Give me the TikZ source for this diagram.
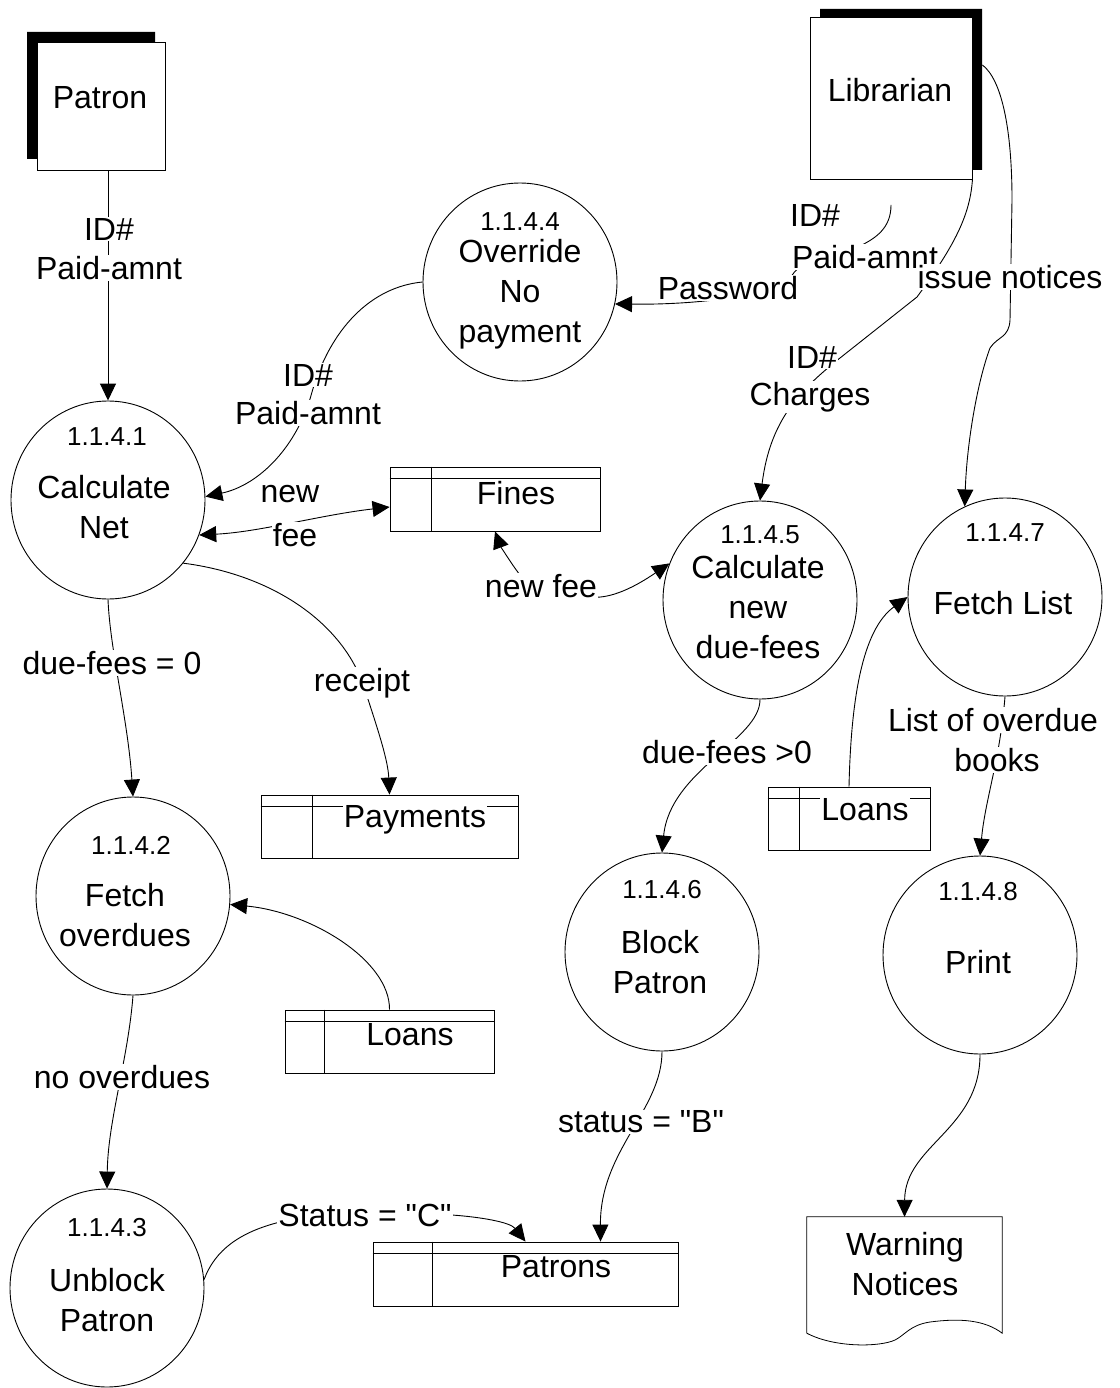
\documentclass[tikz,border=0pt]{standalone}
\usepackage{fontspec}
\setmainfont{Liberation Sans}[Ligatures=TeXOff]
\usetikzlibrary{arrows.meta,shapes.geometric}
\begin{document}
\begin{tikzpicture}[x=1pt,y=-1pt,
  dfdfont/.style={font=\fontsize{32}{40}\selectfont},
  numfont/.style={font=\fontsize{26}{28}\selectfont},
  thinline/.style={line width=0.8pt},
  proc/.style={draw, ellipse, line width=0.9pt, minimum width=194pt, minimum height=198pt, inner sep=0pt},
  ptext/.style={dfdfont, align=center, inner sep=0pt},
  pnum/.style={numfont, inner sep=0pt},
  store/.style={draw, rectangle, line width=0.9pt, inner sep=0pt, minimum height=63pt},
  stext/.style={dfdfont, fill=white, inner xsep=1pt, inner ysep=2pt},
  entity/.style={draw, rectangle, line width=0.9pt, inner sep=0pt},
  flabel/.style={dfdfont, fill=white, inner sep=1pt, align=center},
  flow/.style={line width=0.9pt, -{Triangle[length=17pt,width=16pt]}},
  flowboth/.style={line width=0.9pt, {Triangle[length=17pt,width=16pt]}-{Triangle[length=17pt,width=16pt]}},
]
\useasboundingbox (0,0) rectangle (1119,1388);

% ---------- external entities ----------
\node[entity, minimum width=128pt, minimum height=128pt] (patron) at (101,106) {};
\fill (27,159) -- (27,32) -- (155,32) -- (155,42) -- (37,42) -- (37,159) -- cycle;
\node[dfdfont] (patronT) at (100,98) {Patron};

\node[entity, minimum width=162pt, minimum height=162pt] (lib) at (891,98) {};
\fill (820,9) -- (982,9) -- (982,170) -- (972,170) -- (972,17) -- (820,17) -- cycle;
\node[dfdfont] (libT) at (890,90) {Librarian};

% ---------- processes ----------
\node[proc] (p1) at (108,500) {};
\node[pnum] (p1n) at (107,437) {1.1.4.1};
\node[ptext] (p1t) at (104,507) {Calculate\\Net};

\node[proc] (p4) at (520,282) {};
\node[pnum] (p4n) at (520,222) {1.1.4.4};
\node[ptext] (p4t) at (520,294) {Override\\No\\payment};

\node[proc] (p5) at (760,600) {};
\node[pnum] (p5n) at (760,535) {1.1.4.5};
\node[ptext] (p5t) at (758,607) {Calculate\\new\\due-fees};

\node[proc] (p7) at (1005,597) {};
\node[pnum] (p7n) at (1005,533) {1.1.4.7};
\node[ptext] (p7t) at (1003,603) {Fetch List};

\node[proc] (p2) at (133,896) {};
\node[pnum] (p2n) at (131,845) {1.1.4.2};
\node[ptext] (p2t) at (125,915) {Fetch\\overdues};

\node[proc] (p3) at (107,1288) {};
\node[pnum] (p3n) at (107,1228) {1.1.4.3};
\node[ptext] (p3t) at (107,1300) {Unblock\\Patron};

\node[proc] (p6) at (662,952) {};
\node[pnum] (p6n) at (662,890) {1.1.4.6};
\node[ptext] (p6t) at (660,962) {Block\\Patron};

\node[proc] (p8) at (980,955) {};
\node[pnum] (p8n) at (978,892) {1.1.4.8};
\node[ptext] (p8t) at (978,962) {Print};

% ---------- data stores ----------
\node[store, minimum width=210pt, minimum height=64pt] (fines) at (495,499) {};
\draw[thinline] ([xshift=42pt]fines.north west) -- ([xshift=42pt]fines.south west);
\draw[thinline] ([yshift=-12pt]fines.north west) -- ([yshift=-12pt]fines.north east);
\node[stext] (finesT) at (516,493) {Fines};

\node[store, minimum width=257pt] (payments) at (389.5,826.5) {};
\draw[thinline] ([xshift=52pt]payments.north west) -- ([xshift=52pt]payments.south west);
\draw[thinline] ([yshift=-12pt]payments.north west) -- ([yshift=-12pt]payments.north east);
\node[stext] (paymentsT) at (415,820) {Payments};

\node[store, minimum width=209pt] (loansL) at (389.5,1041.5) {};
\draw[thinline] ([xshift=40pt]loansL.north west) -- ([xshift=40pt]loansL.south west);
\draw[thinline] ([yshift=-12pt]loansL.north west) -- ([yshift=-12pt]loansL.north east);
\node[stext] (loansLT) at (410,1035) {Loans};

\node[store, minimum width=162pt] (loansR) at (849,818.5) {};
\draw[thinline] ([xshift=32pt]loansR.north west) -- ([xshift=32pt]loansR.south west);
\draw[thinline] ([yshift=-12pt]loansR.north west) -- ([yshift=-12pt]loansR.north east);
\node[stext] (loansRT) at (865,810) {Loans};

\node[store, minimum width=305pt, minimum height=64pt] (patrons) at (525.5,1274) {};
\draw[thinline] ([xshift=60pt]patrons.north west) -- ([xshift=60pt]patrons.south west);
\draw[thinline] ([yshift=-12pt]patrons.north west) -- ([yshift=-12pt]patrons.north east);
\node[stext] (patronsT) at (556,1267) {Patrons};

% ---------- printed document ----------
\node[minimum width=195pt, minimum height=116pt, inner sep=0pt] (warn) at (904.5,1275) {};
\draw[thinline] (warn.south west) -- (warn.north west) -- (warn.north east) -- (warn.south east)
  .. controls (985,1320) and (960,1318) .. (930,1322)
  .. controls (910,1325) and (905,1335) .. (895,1340)
  .. controls (880,1347) and (835,1348) .. (warn.south west);
\node[ptext] (warnT) at (905,1264) {Warning\\Notices};

% ---------- data flows ----------
\draw[flow] ([xshift=7pt]patron.south) -- (p1.north);
\draw[flow, shorten <=26pt] (lib.south) -- (891,205)
  .. controls (891,228) and (876,238) .. (860,246)
  .. controls (830,258) and (800,262) .. (793,274)
  .. controls (780,295) and (700,305) .. (p4.-13);
\draw[flow] ([xshift=10pt,yshift=33pt]lib.east)
  .. controls (1002,80) and (1012,130) .. (1012,200) -- (1010,320)
  .. controls (1009,338) and (998,336) .. (990,348)
  .. controls (978,380) and (967,440) .. (p7.114);
\draw[flow] (lib.south east)
  .. controls (970,215) and (955,245) .. (917,297) -- (840,358)
  .. controls (800,390) and (770,420) .. (p5.north);
\draw[flow] (p4.west)
  .. controls (370,287) and (330,330) .. (312,392)
  .. controls (298,445) and (260,485) .. (p1.2);
\draw[flowboth] (p1.-21) .. controls (260,532) and (320,515) .. ([yshift=-8pt]fines.west);
\draw[flow] (p1.-40)
  .. controls (275,575) and (345,625) .. (365,690)
  .. controls (378,730) and (388,760) .. (payments.north);
\draw[flow] (p1.south) .. controls (110,650) and (128,720) .. (p2.north);
\draw[flowboth] (fines.south)
  .. controls (500,545) and (510,562) .. (520,575) -- (590,597)
  .. controls (615,600) and (645,580) .. (p5.158);
\draw[flow] (p5.south) .. controls (760,740) and (670,770) .. (p6.north);
\draw[flow] (loansR.north) .. controls (851,700) and (862,630) .. (p7.west);
\draw[flow] (p7.south) .. controls (1000,760) and (985,800) .. (p8.north);
\draw[flow] (loansL.north) .. controls (390,960) and (310,912) .. (p2.-5);
\draw[flow] (p2.south) .. controls (128,1060) and (108,1120) .. (p3.north);
\draw[flow] (p3.5)
  .. controls (215,1250) and (240,1232) .. (280,1222) -- (452,1215)
  .. controls (480,1217) and (510,1222) .. (patrons.north);
\draw[flow] (p6.south) .. controls (662,1110) and (600,1150) .. ([xshift=75pt]patrons.north);
\draw[flow] (p8.south) .. controls (980,1130) and (905,1145) .. (warn.north);

% ---------- flow labels ----------
\node[flabel] (l1a) at (109,229) {ID\#};
\node[flabel] (l1b) at (109,268) {Paid-amnt};
\node[flabel] (l2a) at (815,215) {ID\#};
\node[flabel] (l2b) at (865,257) {Paid-amnt};
\node[flabel] (l2c) at (728,288) {Password};
\node[flabel] (l3) at (1010,277) {issue notices};
\node[flabel] (l4a) at (812,357) {ID\#};
\node[flabel] (l4b) at (810,397) {Charges};
\node[flabel] (l5a) at (308,375) {ID\#};
\node[flabel] (l5b) at (308,413) {Paid-amnt};
\node[flabel] (l6a) at (290,494) {new};
\node[flabel] (l6b) at (295,535) {fee};
\node[flabel] (l7) at (362,683) {receipt};
\node[flabel] (l8) at (112,663) {due-fees = 0};
\node[flabel] (l9) at (541,586) {new fee};
\node[flabel] (l10) at (727,752) {due-fees >0};
\node[flabel] (l11a) at (993,720) {List of overdue};
\node[flabel] (l11b) at (997,760) {books};
\node[flabel] (l12) at (122,1077) {no overdues};
\node[flabel] (l13) at (365,1215) {Status = "C"};
\node[flabel] (l14) at (641,1122) {status = "B"};
\end{tikzpicture}
\end{document}
